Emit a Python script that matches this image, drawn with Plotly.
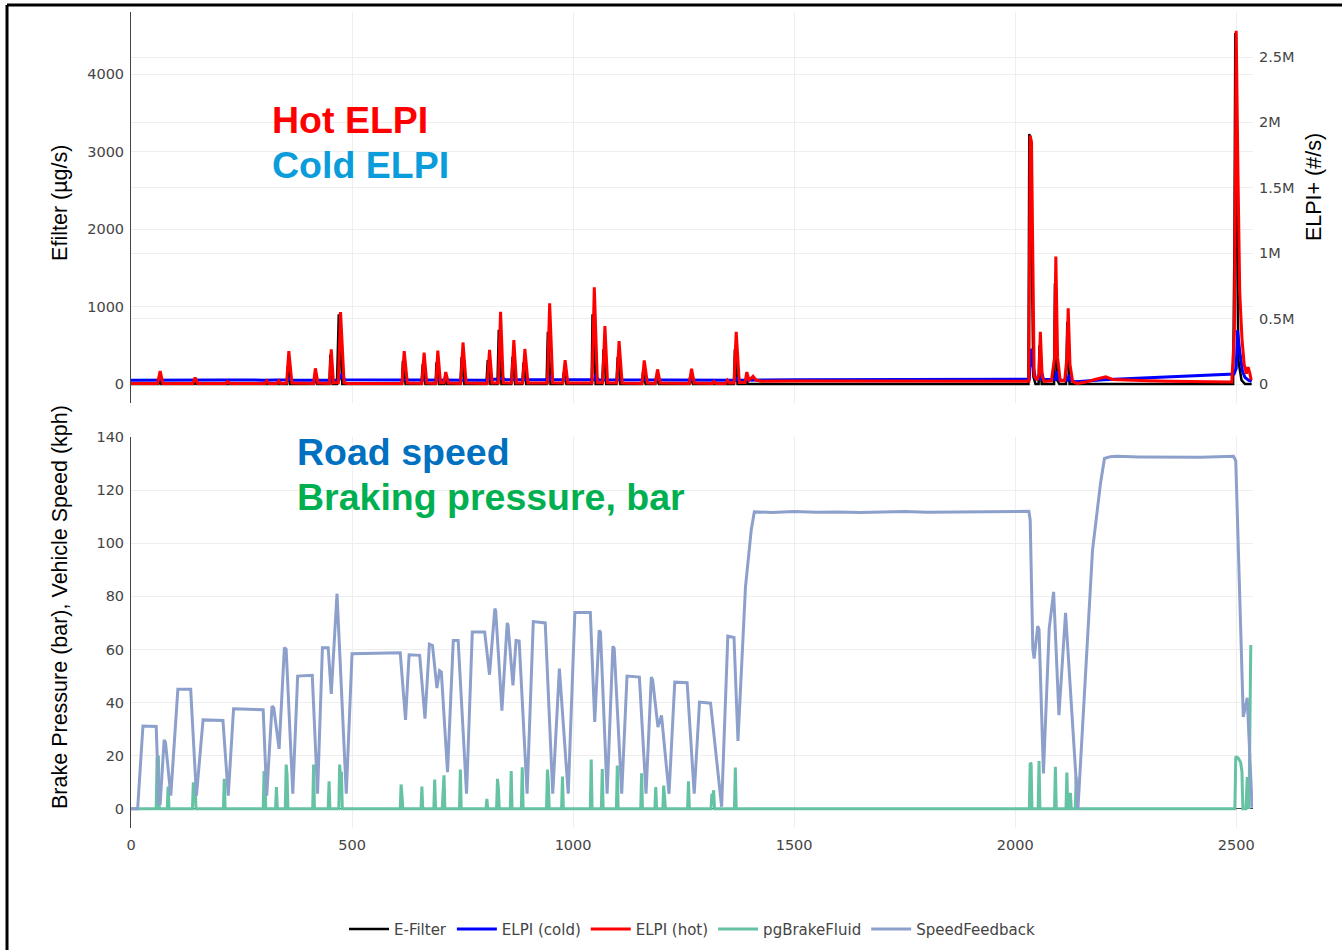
import plotly.graph_objects as go

# ---------------- data ----------------
# E-Filter, left axis of the top panel (µg/s)
efilter_t = [0, 62, 64, 68, 142, 143, 148, 353, 355, 360, 414, 416, 421, 449, 451, 456,
             466, 470, 478, 613, 615, 621, 657, 660, 666, 689, 691, 697, 709, 710, 715,
             745, 748, 754, 804, 807, 813, 829, 832, 838, 860, 863, 869, 885, 888, 894,
             940, 943, 949, 976, 979, 985, 1042, 1044, 1051, 1066, 1069, 1075, 1098, 1101,
             1107, 1156, 1158, 1164, 1186, 1188, 1194, 1263, 1265, 1271, 1364, 1366, 1372,
             1390, 1391, 1396, 2030, 2032, 2035, 2041, 2046, 2053, 2055, 2060, 2088, 2090,
             2095, 2100, 2115, 2118, 2123, 2493, 2496, 2498, 2501, 2505, 2512, 2520, 2535]
efilter_v = [0, 0, 60, 0, 0, 30, 0, 0, 235, 0, 0, 120, 0, 0, 380, 0,
             0, 900, 0, 0, 300, 0, 0, 260, 0, 0, 280, 0, 0, 80, 0,
             0, 350, 0, 0, 310, 0, 0, 700, 0, 0, 350, 0, 0, 280, 0,
             0, 675, 0, 0, 150, 0, 0, 900, 0, 0, 450, 0, 0, 350,
             0, 0, 150, 0, 0, 90, 0, 0, 100, 0, 0, 450, 0,
             0, 50, 0, 0, 3226, 3100, 100, 0, 0, 500, 0, 0, 1300,
             50, 0, 0, 800, 0, 0, 1800, 4530, 2500, 300, 50, 0, 0]

# ELPI (cold), right axis of the top panel (#/s)
cold_t = [0, 100, 200, 300, 357, 360, 366, 470, 476, 484, 600, 700, 800, 836, 840, 846,
          947, 950, 956, 1048, 1051, 1058, 1200, 1300, 1369, 1372, 1378, 1500, 1600, 1700,
          1800, 1900, 2000, 2032, 2036, 2040, 2046, 2058, 2060, 2064, 2091, 2094, 2099,
          2119, 2122, 2127, 2137, 2150, 2200, 2250, 2300, 2350, 2400, 2450, 2495, 2500,
          2503, 2508, 2514, 2520, 2528, 2535]
cold_v = [30e3, 32e3, 31e3, 30e3, 32e3, 45e3, 30e3, 30e3, 69e3, 32e3, 30e3, 31e3, 30e3, 40e3, 50e3, 32e3,
          32e3, 55e3, 32e3, 32e3, 60e3, 32e3, 30e3, 30e3, 30e3, 45e3, 30e3, 33e3, 34e3, 34e3,
          34e3, 35e3, 36e3, 36e3, 270e3, 150e3, 40e3, 40e3, 90e3, 35e3, 35e3, 100e3, 30e3,
          30e3, 70e3, 25e3, 18e3, 22e3, 32e3, 40e3, 48e3, 55e3, 62e3, 70e3, 77e3, 120e3,
          410e3, 250e3, 100e3, 50e3, 30e3, 20e3]

# ELPI (hot), right axis of the top panel (#/s)
hot_t = [0, 60, 66, 72, 140, 145, 151, 214, 218, 224, 303, 307, 312, 330, 334, 339,
         352, 357, 364, 413, 417, 423, 449, 453, 458, 469, 474, 482, 490, 613, 618, 625,
         658, 663, 669, 690, 694, 700, 708, 712, 718, 746, 751, 758, 806, 811, 817,
         831, 836, 842, 861, 866, 872, 886, 891, 898, 942, 947, 954, 977, 982, 988,
         1043, 1048, 1055, 1067, 1072, 1078, 1099, 1104, 1111, 1156, 1161, 1168,
         1186, 1191, 1197, 1263, 1268, 1274, 1315, 1319, 1324, 1345, 1349, 1354,
         1364, 1369, 1376, 1389, 1393, 1398, 1403, 1407, 1414, 1425, 1500, 1600, 1700,
         1800, 1900, 2000, 2031, 2034, 2037, 2043, 2050, 2054, 2057, 2061, 2066, 2082,
         2089, 2092, 2096, 2102, 2112, 2117, 2120, 2124, 2130, 2140, 2160, 2180, 2195,
         2205, 2220, 2250, 2300, 2350, 2400, 2450, 2490, 2496, 2500, 2504, 2508, 2513,
         2518, 2523, 2527, 2531, 2534]
hot_v = [5e3, 5e3, 100e3, 5e3, 5e3, 50e3, 5e3, 5e3, 20e3, 5e3, 5e3, 25e3, 5e3, 5e3, 25e3, 5e3,
         8e3, 252e3, 8e3, 5e3, 120e3, 8e3, 5e3, 265e3, 10e3, 10e3, 550e3, 10e3, 5e3, 5e3, 252e3, 8e3,
         5e3, 240e3, 8e3, 5e3, 255e3, 10e3, 10e3, 92e3, 8e3, 5e3, 318e3, 8e3, 5e3, 262e3, 8e3,
         8e3, 553e3, 10e3, 8e3, 336e3, 8e3, 8e3, 268e3, 8e3, 8e3, 617e3, 10e3, 8e3, 183e3, 8e3,
         8e3, 739e3, 10e3, 10e3, 443e3, 10e3, 8e3, 329e3, 8e3, 5e3, 181e3, 8e3,
         5e3, 112e3, 8e3, 5e3, 117e3, 8e3, 5e3, 20e3, 5e3, 5e3, 30e3, 8e3,
         8e3, 400e3, 12e3, 12e3, 92e3, 30e3, 45e3, 60e3, 30e3, 22e3, 24e3, 23e3, 22e3,
         23e3, 22e3, 22e3, 22e3, 1.90e6, 1.85e6, 60e3, 30e3, 80e3, 400e3, 60e3, 20e3, 25e3,
         200e3, 975e3, 200e3, 25e3, 25e3, 200e3, 580e3, 150e3, 20e3, 5e3, 15e3, 35e3, 45e3,
         55e3, 35e3, 30e3, 25e3, 22e3, 20e3, 18e3, 15e3, 400e3, 2.70e6, 1.6e6, 0.7e6, 0.35e6,
         0.15e6, 80e3, 130e3, 80e3, 30e3]

# pgBrakeFluid, bottom panel (bar)
brake_t = [0, 57, 59, 62, 64, 82, 84, 86, 139, 141, 143, 145, 147, 209, 211, 213,
           299, 301, 303, 305, 327, 329, 331, 349, 351, 353, 355, 411, 413, 415,
           446, 448, 450, 470, 472, 474, 476, 478, 609, 611, 613, 615, 656, 658, 660,
           685, 687, 689, 704, 706, 708, 710, 743, 745, 747, 803, 805, 807,
           827, 829, 831, 833, 858, 860, 862, 883, 885, 887, 940, 942, 944, 946,
           974, 976, 978, 1039, 1041, 1043, 1064, 1066, 1068, 1098, 1100, 1102,
           1153, 1155, 1157, 1185, 1187, 1189, 1203, 1205, 1207, 1209, 1259, 1261, 1263,
           1312, 1314, 1316, 1318, 1320, 1365, 1367, 1369, 2032, 2034, 2036, 2038,
           2052, 2054, 2056, 2089, 2091, 2093, 2115, 2117, 2119, 2123, 2125, 2127,
           2136, 2138, 2140, 2497, 2499, 2505, 2510, 2513, 2515, 2522, 2525, 2527, 2529, 2533]
brake_v = [0, 0, 19, 20, 0, 0, 8.4, 0, 0, 10, 4, 9, 0, 0, 11.3, 0,
           0, 14.2, 10, 0, 0, 8.2, 0, 0, 16.7, 13, 0, 0, 16.7, 0,
           0, 10.4, 0, 0, 16.7, 12, 14, 0, 0, 9.2, 5, 0, 0, 8.4, 0,
           0, 11, 0, 0, 10, 12.6, 0, 0, 14.8, 0, 0, 3.8, 0,
           0, 11.3, 8, 0, 0, 14.2, 0, 0, 15.7, 0, 0, 14.8, 10, 0,
           0, 12.2, 0, 0, 18.6, 0, 0, 15, 0, 0, 16.3, 0,
           0, 13.4, 0, 0, 8.2, 0, 0, 8.8, 5, 0, 0, 10.4, 0,
           0, 5.7, 4, 7, 0, 0, 15.6, 0, 0, 17.3, 17, 0,
           0, 18, 0, 0, 15.8, 0, 0, 13.7, 0, 0, 6, 0,
           0, 12, 0, 0, 19.7, 19, 17.5, 14, 0, 0, 12, 8, 0, 61.7]

# SpeedFeedback, bottom panel (kph)
speed_t = [0, 15, 27, 57, 63, 66, 75, 78, 90, 106, 135, 148, 163, 208, 220, 232, 299, 307,
           319, 323, 335, 347, 351, 366, 377, 410, 422, 433, 446, 453, 466, 487, 500, 609,
           621, 629, 653, 665, 675, 682, 692, 698, 702, 716, 729, 740, 759, 772, 800, 811,
           823, 825, 839, 851, 853, 864, 871, 878, 896, 910, 937, 954, 969, 989, 1004, 1039,
           1049, 1059, 1062, 1077, 1090, 1093, 1110, 1122, 1150, 1165, 1177, 1180, 1192, 1200,
           1217, 1230, 1258, 1274, 1286, 1311, 1336, 1350, 1364, 1373, 1390, 1403, 1410,
           1450, 1500, 1550, 1600, 1650, 1700, 1750, 1800, 1850, 1900, 1950, 2000, 2025,
           2031, 2034, 2040, 2043, 2051, 2054, 2064, 2077, 2087, 2099, 2114, 2142, 2175,
           2193, 2202, 2215, 2230, 2280, 2350, 2420, 2494, 2499, 2516, 2525, 2536]
speed_v = [0, 0, 31.2, 31, 2, 2, 26, 25, 5, 45, 45, 5, 33.5, 33.3, 5, 37.7, 37.3, 5,
           38.7, 38, 22.6, 60.7, 60, 5.7, 50, 50.3, 5.7, 60.7, 60.7, 43.3, 81, 5.7, 58.4, 58.8,
           33.5, 58, 57.8, 34, 62, 61.5, 45.5, 52, 51.5, 13.8, 63.4, 63.4, 5.7, 66.6, 66.6, 50.5,
           75.4, 74.5, 37, 70, 69, 46.5, 63.4, 63.2, 5.7, 70.5, 70, 5.7, 52.8, 5.7, 73.9, 73.9,
           32.7, 67.2, 66.5, 5.7, 61.2, 60.5, 5.7, 50, 49.6, 5.7, 49.6, 48.5, 30.8, 35.2,
           5.7, 47.7, 47.5, 5.7, 40.2, 39.8, 0.8, 65, 64.5, 25.6, 83.6, 105, 111.8,
           111.6, 111.9, 111.7, 111.8, 111.6, 111.8, 111.9, 111.7, 111.8, 111.9, 111.8, 112.0, 112.2,
           112.0, 108.7, 60, 56.6, 68.8, 67.5, 13.3, 67.9, 81.7, 35.3, 73.8, 0, 97.4,
           122.5, 131.9, 132.6, 132.7, 132.5, 132.4, 132.4, 132.7, 131, 34.6, 41.8, 0.4]

# axis ticks
efilter_ticks = [0, 1000, 2000, 3000, 4000]
elpi_ticks = [0, 0.5e6, 1e6, 1.5e6, 2e6, 2.5e6]
elpi_labels = ["0", "0.5M", "1M", "1.5M", "2M", "2.5M"]
speed_ticks = [0, 20, 40, 60, 80, 100, 120, 140]
x_ticks = [0, 500, 1000, 1500, 2000, 2500]

# ---------------- figure ----------------
TICK_FONT = dict(family="DejaVu Sans", size=14.5, color="#444444")
GRID = "#eeeeee"

fig = go.Figure()
fig.add_trace(go.Scatter(x=efilter_t, y=efilter_v, name="E-Filter", mode="lines",
                         line=dict(color="#000000", width=2.5), xaxis="x", yaxis="y"))
fig.add_trace(go.Scatter(x=cold_t, y=cold_v, name="ELPI (cold)", mode="lines",
                         line=dict(color="#0000ff", width=3), xaxis="x", yaxis="y2"))
fig.add_trace(go.Scatter(x=hot_t, y=hot_v, name="ELPI (hot)", mode="lines",
                         line=dict(color="#ff0000", width=3), xaxis="x", yaxis="y2"))
fig.add_trace(go.Scatter(x=brake_t, y=brake_v, name="pgBrakeFluid", mode="lines",
                         line=dict(color="#66c2a5", width=3), xaxis="x2", yaxis="y3"))
fig.add_trace(go.Scatter(x=speed_t, y=speed_v, name="SpeedFeedback", mode="lines",
                         line=dict(color="#8da0cb", width=3), xaxis="x2", yaxis="y3"))

xcommon = dict(range=[0, 2538], tickvals=x_ticks, gridcolor=GRID, gridwidth=1,
               zeroline=False, showline=False, tickfont=TICK_FONT, automargin=False)

fig.update_layout(
    width=1342, height=950,
    margin=dict(l=131, r=89, t=12, b=122, autoexpand=False),
    paper_bgcolor="white", plot_bgcolor="white",
    showlegend=True,
    legend=dict(orientation="h", x=0.5, xanchor="center", y=-0.124, yanchor="middle",
                font=dict(family="DejaVu Sans", size=15, color="#444444"),
                itemwidth=40, bgcolor="rgba(0,0,0,0)"),
    xaxis=dict(domain=[0, 1], anchor="y", showticklabels=False, **xcommon),
    xaxis2=dict(domain=[0, 1], anchor="y3", matches="x", showticklabels=True,
                ticks="", ticklabelstandoff=6, **xcommon),
    yaxis=dict(domain=[0.5208, 1], anchor="x", range=[-245, 4800], tickvals=efilter_ticks,
               gridcolor=GRID, zeroline=False, showline=True, linecolor="#444444",
               linewidth=1, tickfont=TICK_FONT, ticklabelstandoff=3, automargin=False),
    yaxis2=dict(overlaying="y", side="right", anchor="x", range=[-0.145e6, 2.844e6],
                tickvals=elpi_ticks, ticktext=elpi_labels,
                gridcolor=GRID, zeroline=False, showline=False, tickfont=TICK_FONT,
                ticklabelstandoff=5, automargin=False),
    yaxis3=dict(domain=[0, 0.4792], anchor="x2", range=[-7.2, 140], tickvals=speed_ticks,
                gridcolor=GRID, zeroline=True, zerolinecolor="#444444", zerolinewidth=1,
                showline=True, linecolor="#444444", linewidth=1, tickfont=TICK_FONT,
                ticklabelstandoff=3, automargin=False),
)

TITLE_FONT = dict(family="Liberation Sans, Arial", size=21.5, color="#000000")
BIG = "Liberation Sans, Arial"
annotations = [
    dict(text="<b>Hot ELPI</b>", x=0.124, y=0.8676, font=dict(family=BIG, size=37.5, color="#ff0000")),
    dict(text="<b>Cold ELPI</b>", x=0.124, y=0.8125, font=dict(family=BIG, size=37.5, color="#0b9ddb")),
    dict(text="<b>Road speed</b>", x=0.1461, y=0.4608, font=dict(family=BIG, size=37.5, color="#0070c0")),
    dict(text="<b>Braking pressure, bar</b>", x=0.1461, y=0.4056, font=dict(family=BIG, size=37.5, color="#00b050")),
]
for a in annotations:
    fig.add_annotation(xref="paper", yref="paper", xanchor="left", yanchor="middle",
                       showarrow=False, **a)

fig.add_annotation(text="Efilter (µg/s)", xref="paper", yref="paper", x=-0.0633, y=0.766,
                   textangle=-90, showarrow=False, font=TITLE_FONT,
                   xanchor="center", yanchor="middle")
fig.add_annotation(text="Brake Pressure (bar), Vehicle Speed (kph)", xref="paper", yref="paper",
                   x=-0.0633, y=0.2708, textangle=-90, showarrow=False, font=TITLE_FONT,
                   xanchor="center", yanchor="middle")
fig.add_annotation(text="ELPI+ (#/s)", xref="paper", yref="paper", x=1.0544, y=0.7855,
                   textangle=-90, showarrow=False, font=TITLE_FONT,
                   xanchor="center", yanchor="middle")

# frame lines visible at the top and left edge of the reference picture
fig.add_shape(type="line", xref="paper", yref="paper", x0=-0.1105, x1=-0.1105,
              y0=-0.17, y1=1.0086, line=dict(color="#000000", width=3))
fig.add_shape(type="line", xref="paper", yref="paper", x0=-0.1105, x1=1.09,
              y0=1.0086, y1=1.0086, line=dict(color="#000000", width=3))

fig.write_html("out.html", config={"displayModeBar": False},
               post_script="document.body.style.margin='0px';")
